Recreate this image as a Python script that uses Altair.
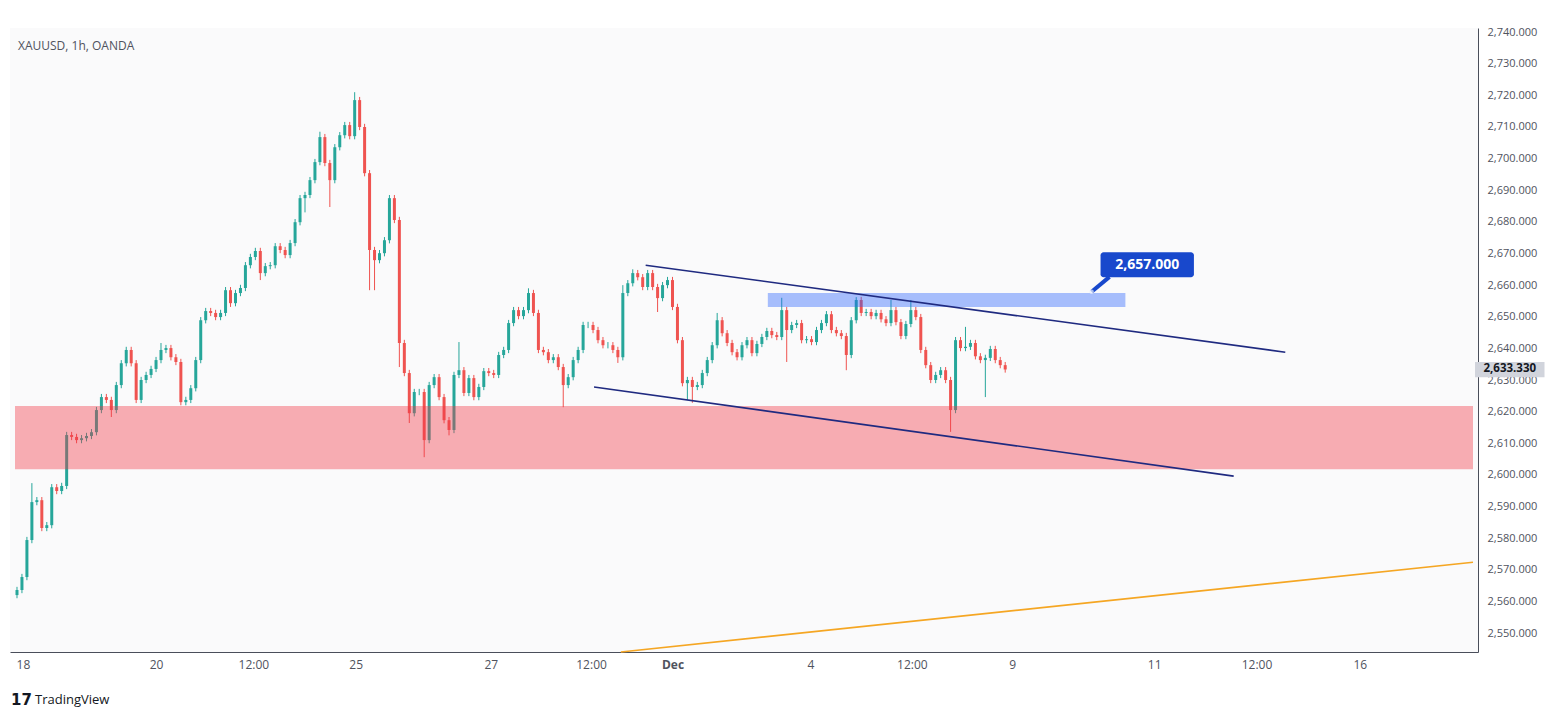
import altair as alt
import pandas as pd

# ---------------- data ----------------
first_open = 2562.0
closes = [
    2563.6, 2567.7, 2579.4, 2591.4, 2592.0, 2583.2, 2584.1, 2596.1, 2594.9, 2596.5,
    2612.6, 2612.0, 2611.0, 2611.6, 2612.3, 2613.5, 2620.5, 2624.6, 2623.7, 2620.5,
    2628.4, 2635.3, 2639.5, 2635.3, 2623.7, 2630.0, 2631.6, 2633.5, 2636.3, 2639.5,
    2640.1, 2637.2, 2635.7, 2623.0, 2623.7, 2627.4, 2636.3, 2648.9, 2651.8, 2651.2,
    2649.9, 2651.2, 2658.4, 2654.3, 2657.5, 2659.1, 2666.3, 2668.9, 2670.8, 2663.8,
    2666.0, 2666.3, 2672.3, 2671.1, 2669.5, 2673.3, 2679.9, 2687.5, 2688.5, 2693.2,
    2698.9, 2706.8, 2698.6, 2693.2, 2703.6, 2707.4, 2710.6, 2707.1, 2718.5, 2710.0,
    2695.4, 2671.1, 2667.9, 2670.1, 2674.2, 2687.5, 2680.6, 2641.7, 2632.2, 2619.5,
    2626.2, 2626.2, 2611.0, 2628.4, 2630.9, 2624.6, 2617.3, 2614.2, 2631.6, 2633.1,
    2625.9, 2630.6, 2624.6, 2627.8, 2632.8, 2632.2, 2631.6, 2637.9, 2639.5, 2648.0,
    2652.1, 2650.2, 2652.1, 2657.5, 2651.2, 2639.5, 2638.8, 2636.3, 2637.2, 2634.1,
    2628.4, 2630.9, 2636.3, 2639.5, 2647.4, 2647.4, 2645.8, 2642.6, 2641.0, 2641.0,
    2639.5, 2637.2, 2657.5, 2660.6, 2663.8, 2662.5, 2659.4, 2663.8, 2659.4, 2655.9,
    2660.0, 2661.6, 2653.1, 2642.6, 2629.0, 2630.0, 2627.8, 2628.4, 2632.2, 2636.3,
    2641.0, 2648.9, 2644.8, 2641.7, 2638.8, 2637.2, 2641.0, 2642.6, 2638.5, 2641.4,
    2643.6, 2645.5, 2644.2, 2643.6, 2652.1, 2645.8, 2647.4, 2648.0, 2642.6, 2642.9,
    2642.0, 2645.8, 2648.0, 2650.8, 2645.8, 2644.8, 2643.9, 2637.9, 2648.9, 2655.3,
    2651.2, 2651.5, 2650.2, 2651.2, 2649.2, 2648.0, 2652.1, 2648.3, 2643.9, 2647.7,
    2652.1, 2649.9, 2639.5, 2634.7, 2630.0, 2631.6, 2633.1, 2630.0, 2620.5, 2642.6,
    2640.1, 2640.5, 2641.7, 2637.5, 2636.3, 2637.0, 2639.8, 2636.3, 2634.7, 2633.33,
]
# notable wicks (bar index -> price)
high_wicks = {3: 2597.4, 29: 2641.7, 61: 2708.5, 68: 2721.0, 75: 2688.5, 89: 2642.0,
              103: 2659.0, 122: 2660.0, 124: 2665.0, 141: 2651.2, 154: 2656.0,
              169: 2656.2, 176: 2655.3, 180: 2655.3, 191: 2646.8}
low_wicks = {19: 2618.3, 43: 2653.1, 49: 2661.6, 58: 2683.0, 63: 2684.7, 71: 2658.4,
             72: 2658.4, 77: 2634.1, 79: 2616.4, 82: 2605.6, 87: 2612.5, 110: 2621.4,
             121: 2635.4, 129: 2651.5, 135: 2623.7, 136: 2622.8, 155: 2635.7,
             167: 2633.1, 188: 2613.6, 195: 2624.6}
wick_pad = 1.0

x_tick_pos = [1.2, 28.0, 47.6, 68.2, 95.4, 115.6, 132.0, 159.8, 180.2, 200.4, 229.0, 249.6, 270.4]
x_tick_text = ["18", "20", "12:00", "25", "27", "12:00", "Dec", "4", "12:00", "9", "11", "12:00", "16"]
y_ticks = list(range(2550, 2741, 10))

x_domain = [-0.4, 293.2]
y_domain = [2544.0, 2741.3]

support_zone = {"x": -0.4, "x2": 293.2, "y": 2601.8, "y2": 2621.8}
resist_zone = {"x": 151.2, "x2": 223.2, "y": 2653.1, "y2": 2657.5}
channel_lines = [
    {"name": "upper", "x": 126.6, "y": 2666.3, "x2": 255.4, "y2": 2638.8},
    {"name": "lower", "x": 116.2, "y": 2627.8, "x2": 245.0, "y2": 2599.6},
]
orange_line = [{"x": 121.6, "y": 2544.0, "x2": 293.2, "y2": 2572.4}]
level_label = {"x": 218.2, "x2": 237.0, "y": 2662.5, "y2": 2670.4, "tx": 227.6, "ty": 2666.4,
               "text": "2,657.000"}
level_pointer = {"x": 220.0, "y": 2662.6, "x2": 216.4, "y2": 2657.9}
last_price = 2633.33
last_box = {"x": 293.6, "x2": 307.6, "y": 2630.9, "y2": 2635.7, "tx": 300.6}

# ---------------- build table ----------------
rows = []
prev = first_open
for i, c in enumerate(closes):
    o = prev
    h = max(high_wicks.get(i, max(o, c) + wick_pad), o, c)
    l = min(low_wicks.get(i, min(o, c) - wick_pad), o, c)
    rows.append({"i": i, "open": o, "close": c, "high": h, "low": l,
                 "dir": "up" if c >= o else "down"})
    prev = c
df = pd.DataFrame(rows)

GREEN = "#26a69a"
RED = "#ef5350"
W, H = 1468, 624

xs = alt.Scale(domain=x_domain, nice=False, zero=False)
ys = alt.Scale(domain=y_domain, nice=False, zero=False)

label_expr = " : ".join(
    f"abs(datum.value - {p}) < 0.05 ? '{t}'" for p, t in zip(x_tick_pos, x_tick_text)
) + " : ''"

x_axis = alt.Axis(values=x_tick_pos, labelExpr=label_expr, grid=False, ticks=False,
                  domain=True, domainColor="#4a4e5a", domainWidth=1,
                  labelColor="#50535e", labelFontSize=12, labelPadding=7,
                  labelFont="Open Sans", labelFlush=False, labelOverlap=False,
                  labelFontWeight={"condition": {"test": "abs(datum.value - 132) < 0.05", "value": "bold"},
                                   "value": "normal"})
y_axis = alt.Axis(orient="right", values=y_ticks, labelExpr="format(datum.value, ',.3f')",
                  grid=False, ticks=False, domain=True, domainColor="#4a4e5a",
                  labelColor="#50535e", labelFontSize=11, labelPadding=9,
                  labelFont="Open Sans", labelFlush=False, labelOverlap=False, labelBound=False)

color_enc = alt.Color("dir:N", scale=alt.Scale(domain=["up", "down"], range=[GREEN, RED]), legend=None)


def X(field):
    return alt.X(field, type="quantitative", scale=xs, axis=x_axis, title=None)


def Y(field):
    return alt.Y(field, type="quantitative", scale=ys, axis=y_axis, title=None)


wicks = alt.Chart(df).mark_rule(strokeWidth=1).encode(
    x=X("i"), y=Y("low"), y2="high:Q", color=color_enc,
)

bodies = alt.Chart(df).mark_bar(size=3).encode(
    x=X("i"), y=Y("open"), y2="close:Q", color=color_enc,
)

pink = alt.Chart(pd.DataFrame([support_zone])).mark_rect(color="#f23645", opacity=0.4).encode(
    x=X("x"), x2="x2:Q", y=Y("y"), y2="y2:Q")

blue = alt.Chart(pd.DataFrame([resist_zone])).mark_rect(color="#2962ff", opacity=0.4).encode(
    x=X("x"), x2="x2:Q", y=Y("y"), y2="y2:Q")

chan = alt.Chart(pd.DataFrame(channel_lines)).mark_rule(color="#1f2a80", strokeWidth=1.6).encode(
    x=X("x"), x2="x2:Q", y=Y("y"), y2="y2:Q")

orange = alt.Chart(pd.DataFrame(orange_line)).mark_rule(color="#f5a623", strokeWidth=1.6).encode(
    x=X("x"), x2="x2:Q", y=Y("y"), y2="y2:Q")

lbl_df = pd.DataFrame([level_label])
pointer = alt.Chart(pd.DataFrame([level_pointer])).mark_rule(color="#1848cc", strokeWidth=4).encode(
    x=X("x"), x2="x2:Q", y=Y("y"), y2="y2:Q")
box = alt.Chart(lbl_df).mark_rect(color="#1848cc", cornerRadius=3).encode(
    x=X("x"), x2="x2:Q", y=Y("y"), y2="y2:Q")
box_text = alt.Chart(lbl_df).mark_text(color="white", fontSize=14, fontWeight="bold",
                                       font="Open Sans").encode(
    x=X("tx"), y=Y("ty"), text="text:N")
dot = alt.Chart(pd.DataFrame([level_pointer])).mark_point(shape="circle", size=20, filled=True,
                                                          color="#e8eefc").encode(
    x=X("x2"), y=Y("y2"))

lp_df = pd.DataFrame([dict(last_box, ty=last_price, text=format(last_price, ",.3f"))])
price_box = alt.Chart(lp_df).mark_rect(color="#d1d4dc").encode(
    x=X("x"), x2="x2:Q", y=Y("y"), y2="y2:Q")
price_text = alt.Chart(lp_df).mark_text(color="#131722", fontSize=11.5, fontWeight="bold",
                                        font="Open Sans").encode(
    x=X("tx"), y=Y("ty"), text="text:N")

title = alt.Chart(pd.DataFrame([{"t": "XAUUSD, 1h, OANDA"}])).mark_text(
    align="left", baseline="middle", fontSize=12, color="#50535e", font="Open Sans").encode(
    x=alt.value(8), y=alt.value(18), text="t:N")

logo = alt.Chart(pd.DataFrame([{"t": "17"}])).mark_text(
    align="left", baseline="middle", fontSize=15, fontWeight=900, color="#131722",
    font="DejaVu Sans").encode(x=alt.value(1), y=alt.value(48 + H), text="t:N")
logo_txt = alt.Chart(pd.DataFrame([{"t": "TradingView"}])).mark_text(
    align="left", baseline="middle", fontSize=13, color="#131722", font="Open Sans").encode(
    x=alt.value(25), y=alt.value(48 + H), text="t:N")

chart = alt.layer(
    wicks, bodies, pink, blue, chan, orange, pointer, box, box_text, dot,
    price_box, price_text, title, logo, logo_txt
).properties(
    width=W, height=H,
    autosize=alt.AutoSizeParams(type="none"),
    padding={"left": 10, "top": 28, "right": 82, "bottom": 67},
    background="#ffffff",
).configure_view(stroke=None, fill="#fafafb").configure_axis(labelOverlap=False)

chart.save("out.html", embed_options={"renderer": "svg", "actions": False})
